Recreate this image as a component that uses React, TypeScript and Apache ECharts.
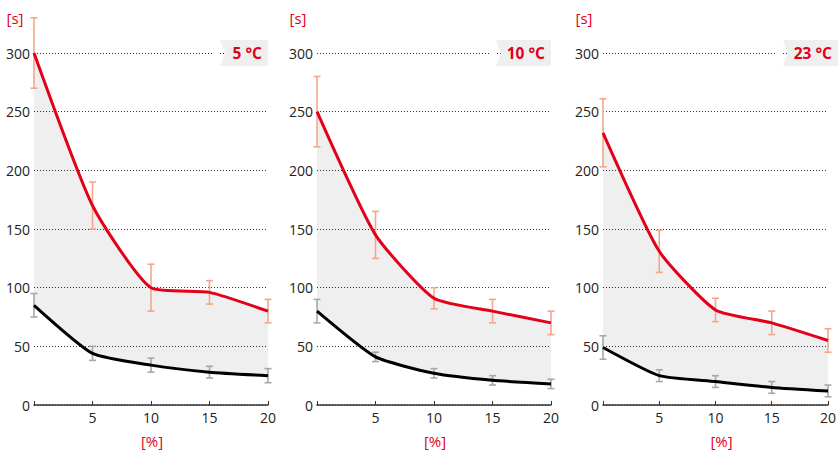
import React, { useEffect, useRef } from "react";
import * as echarts from "echarts";

const xs = ["0", "5", "10", "15", "20"];
const tempLabels = ["5 °C", "10 °C", "23 °C"];
const red5 = [300, 170, 100, 96, 80];
const redErr5 = [30, 20, 20, 10, 10];
const black5 = [85, 44, 34, 28, 25];
const blackErr5 = [10, 6, 6, 5, 6];
const red10 = [250, 145, 91, 80, 70];
const redErr10 = [30, 20, 9, 10, 10];
const black10 = [80, 41, 27, 21, 18];
const blackErr10 = [10, 4, 4, 4, 4];
const red23 = [232, 131, 81, 70, 55];
const redErr23 = [29, 18, 10, 10, 10];
const black23 = [49, 25, 20, 15, 12];
const blackErr23 = [10, 5, 5, 5, 5];
const yTicks = { min: 0, max: 300, interval: 50 };

const panels = [
  { red: red5, redErr: redErr5, black: black5, blackErr: blackErr5 },
  { red: red10, redErr: redErr10, black: black10, blackErr: blackErr10 },
  { red: red23, redErr: redErr23, black: black23, blackErr: blackErr23 },
];

const LEFTS = [34, 317, 603];
const WIDTHS = [234, 234, 235];
const TOP = 53;
const H = 352;
const TAGW = [48, 55, 55];
const FONT = "'Open Sans', 'Noto Sans', sans-serif";
const RED = "#e2001a";
const RED_ERR = "#f4a58c";
const GRAY_ERR = "#a8a8a8";
const SMOOTH = 0.18;

function errSeries(i: number, vals: number[], errs: number[], color: string) {
  return {
    type: "custom",
    xAxisIndex: i,
    yAxisIndex: i,
    z: 2,
    clip: false,
    silent: true,
    encode: { x: 0, y: 1 },
    data: xs.map((_, k) => [k, vals[k] - errs[k], vals[k] + errs[k]]),
    renderItem: (params: any, api: any) => {
      const x = api.value(0);
      const lo = api.coord([x, api.value(1)]);
      const hi = api.coord([x, api.value(2)]);
      const style = { stroke: color, lineWidth: 1.6 };
      return {
        type: "group",
        children: [
          { type: "line", shape: { x1: lo[0], y1: lo[1], x2: hi[0], y2: hi[1] }, style },
          { type: "line", shape: { x1: lo[0] - 3.5, y1: lo[1], x2: lo[0] + 3.5, y2: lo[1] }, style },
          { type: "line", shape: { x1: hi[0] - 3.5, y1: hi[1], x2: hi[0] + 3.5, y2: hi[1] }, style },
        ],
      };
    },
  };
}

export default function App() {
  const ref = useRef<HTMLDivElement>(null);
  useEffect(() => {
    document.body.style.margin = "0";
    const chart = echarts.init(ref.current!, null, { renderer: "svg" });
    const series: any[] = [];
    panels.forEach((p, i) => {
      series.push({
        type: "line", xAxisIndex: i, yAxisIndex: i, stack: "s" + i, smooth: SMOOTH,
        symbol: "none", lineStyle: { opacity: 0 }, silent: true, z: 1,
        data: p.black,
      });
      series.push({
        type: "line", xAxisIndex: i, yAxisIndex: i, stack: "s" + i, smooth: SMOOTH,
        symbol: "none", lineStyle: { opacity: 0 }, silent: true, z: 1,
        areaStyle: { color: "rgba(0,0,0,0.064)", opacity: 1 },
        data: p.red.map((v, k) => v - p.black[k]),
      });
      series.push(errSeries(i, p.red, p.redErr, RED_ERR));
      series.push(errSeries(i, p.black, p.blackErr, GRAY_ERR));
      series.push({
        type: "line", xAxisIndex: i, yAxisIndex: i, smooth: SMOOTH, symbol: "none", z: 3,
        lineStyle: { color: RED, width: 3 },
        data: p.red,
      });
      series.push({
        type: "line", xAxisIndex: i, yAxisIndex: i, smooth: SMOOTH, symbol: "none", z: 3,
        lineStyle: { color: "#000", width: 3 },
        data: p.black,
      });
    });

    const graphic: any[] = [];
    LEFTS.forEach((l, i) => {
      const right = l + WIDTHS[i];
      const tl = right - TAGW[i];
      graphic.push({
        type: "rect", z: 100, shape: { x: tl - 7, y: 50, width: 7, height: 6 },
        style: { fill: "#fff" },
      });
      graphic.push({
        type: "polygon", z: 101,
        shape: { points: [[tl, 40], [right, 40], [right, 66], [tl, 66], [tl + 5, 53]] },
        style: { fill: "#efefef" },
      });
      graphic.push({
        type: "text", z: 102, x: right - 6, y: 53,
        style: {
          text: tempLabels[i], fill: RED, font: `bold 15.5px ${FONT}`,
          align: "right", verticalAlign: "middle",
        },
      });
      graphic.push({
        type: "text", z: 102, x: l - 19, y: 18,
        style: { text: "[s]", fill: RED, font: `15px ${FONT}`, align: "center", verticalAlign: "middle" },
      });
      graphic.push({
        type: "text", z: 102, x: l + WIDTHS[i] / 2 + 1, y: 441,
        style: { text: "[%]", fill: RED, font: `15px ${FONT}`, align: "center", verticalAlign: "middle" },
      });
    });

    chart.setOption({
      animation: false,
      grid: LEFTS.map((l, i) => ({ left: l, top: TOP, width: WIDTHS[i], height: H })),
      xAxis: LEFTS.map((_, i) => ({
        gridIndex: i, type: "category", data: xs, boundaryGap: false,
        axisLine: { show: true, onZero: false, lineStyle: { color: "#333", width: 1.5 } },
        axisTick: { show: true, inside: true, length: 4, lineStyle: { color: "#333" } },
        axisLabel: {
          color: "#222", fontSize: 14, margin: 5, fontFamily: FONT, interval: 0,
          formatter: (v: string) => (v === "0" ? "" : v),
        },
        splitLine: { show: false },
      })),
      yAxis: LEFTS.map((_, i) => ({
        gridIndex: i, type: "value", ...yTicks,
        axisLine: { show: false },
        axisTick: { show: false },
        axisLabel: { color: "#222", fontSize: 14, margin: 4, fontFamily: FONT },
        splitLine: { show: true, lineStyle: { color: "#333", type: [1, 2], width: 1 } },
      })),
      series,
      graphic,
    });
    return () => chart.dispose();
  }, []);
  return <div ref={ref} style={{ width: 839, height: 451 }} />;
}
